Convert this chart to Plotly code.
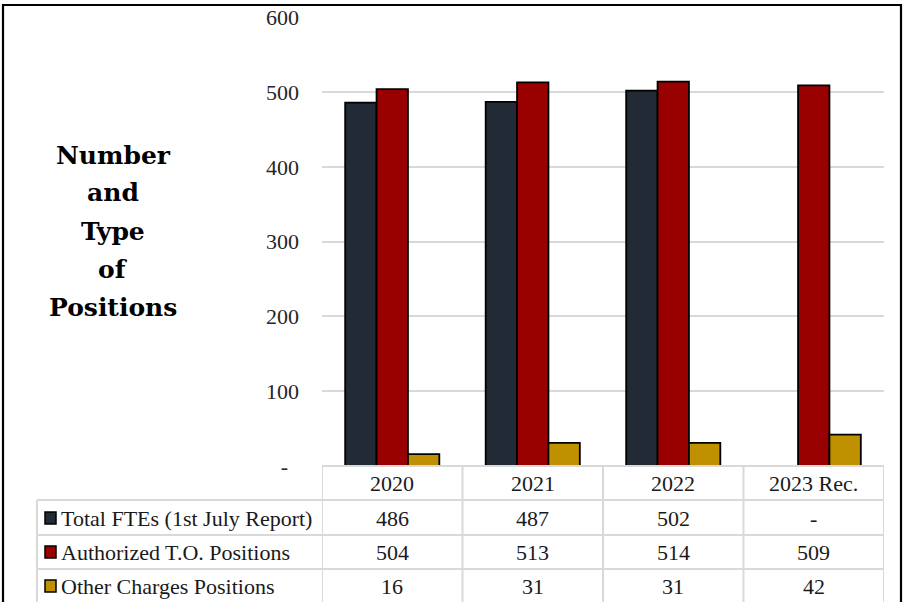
import plotly.graph_objects as go

# ---- data -------------------------------------------------------------
categories = ["2020", "2021", "2022", "2023 Rec."]
series_names = ["Total FTEs (1st July Report)",
                "Authorized T.O. Positions",
                "Other Charges Positions"]
total_ftes = [486, 487, 502, None]
authorized_to = [504, 513, 514, 509]
other_charges = [16, 31, 31, 42]
y_ticks = [0, 100, 200, 300, 400, 500, 600]
y_tick_text = ["-\u00a0\u00a0", "100", "200", "300", "400", "500", "600"]
title_lines = ["Number", "and", "Type", "of", "Positions"]

series_values = [total_ftes, authorized_to, other_charges]
series_colors = ["#222a35", "#990000", "#bf9000"]

# ---- page geometry (pixels) --------------------------------------------
W, H = 904, 602


def px_x(p):
    return p / W


def px_y(p):
    return 1 - p / H


plot_left, plot_right = 322, 884
plot_top, plot_bottom = 17, 466
row_lines = [500, 535, 569]           # horizontal rules of the data table
row_centers = [518, 552, 586]
header_center = 483
label_left = 37

SERIF = "Liberation Serif"
TEXT = "#1a1a1a"
GRID = "#d9d9d9"
TABLE_SIZE = 22

fig = go.Figure()
for name, vals, col in zip(series_names, series_values, series_colors):
    fig.add_trace(go.Bar(
        x=categories, y=vals, name=name,
        marker=dict(color=col, line=dict(color="#000000", width=1.8)),
        showlegend=False,
    ))

shapes = []
annotations = []

# outer frame (open at the bottom)
shapes.append(dict(
    type="path", xref="paper", yref="paper",
    path=f"M {px_x(3)},{px_y(602)} L {px_x(3)},{px_y(5)} "
         f"L {px_x(901)},{px_y(5)} L {px_x(901)},{px_y(602)}",
    line=dict(color="#000000", width=2.2),
))

# data table grid (column edges follow the category axis)
tbl_line = dict(color=GRID, width=2)
n = len(categories)
shapes.append(dict(type="line", xref="x", yref="paper",
                   x0=-0.5, x1=n - 0.5,
                   y0=px_y(plot_bottom), y1=px_y(plot_bottom), line=tbl_line))
for ry in row_lines:
    shapes.append(dict(type="line", xref="paper", yref="paper",
                       x0=px_x(label_left), x1=px_x(plot_right),
                       y0=px_y(ry), y1=px_y(ry), line=tbl_line))
for i in range(n + 1):
    shapes.append(dict(type="line", xref="x", yref="paper",
                       x0=i - 0.5, x1=i - 0.5,
                       y0=px_y(plot_bottom), y1=px_y(H), line=tbl_line))
shapes.append(dict(type="line", xref="paper", yref="paper",
                   x0=px_x(label_left), x1=px_x(label_left),
                   y0=px_y(row_lines[0]), y1=px_y(H), line=tbl_line))

# header row: category names
for i, cat in enumerate(categories):
    annotations.append(dict(
        x=i, xref="x", y=px_y(header_center), yref="paper",
        text=cat, showarrow=False, xanchor="center", yanchor="middle",
        font=dict(family=SERIF, size=TABLE_SIZE, color=TEXT),
    ))

# series rows: legend key, series name and values
for r, (name, vals, col) in enumerate(zip(series_names, series_values, series_colors)):
    cy = row_centers[r]
    shapes.append(dict(type="rect", xref="paper", yref="paper",
                       x0=px_x(45), x1=px_x(56),
                       y0=px_y(cy + 6), y1=px_y(cy - 6),
                       fillcolor=col, line=dict(color="#000000", width=1.5)))
    annotations.append(dict(
        x=px_x(59), xref="paper", y=px_y(cy), yref="paper",
        text=name, showarrow=False, xanchor="left", yanchor="middle",
        font=dict(family=SERIF, size=TABLE_SIZE, color=TEXT),
    ))
    for i, v in enumerate(vals):
        annotations.append(dict(
            x=i, xref="x", y=px_y(cy), yref="paper",
            text="-" if v is None else str(v),
            showarrow=False, xanchor="center", yanchor="middle",
            font=dict(family=SERIF, size=TABLE_SIZE, color=TEXT),
        ))

# side title
title_centers = [155, 192, 231, 269, 307]
for line, cy in zip(title_lines, title_centers):
    annotations.append(dict(
        x=px_x(113), xref="paper", y=px_y(cy), yref="paper",
        text=f"<b>{line}</b>", showarrow=False,
        xanchor="center", yanchor="middle",
        font=dict(family="DejaVu Serif", size=25, color="#000000"),
    ))

fig.update_layout(
    width=W, height=H, autosize=False,
    margin=dict(l=0, r=0, t=0, b=0, pad=0, autoexpand=False),
    paper_bgcolor="#ffffff", plot_bgcolor="#ffffff",
    barmode="group", bargap=0.33, bargroupgap=0,
    shapes=shapes, annotations=annotations,
    xaxis=dict(
        type="category", automargin=False,
        domain=[px_x(plot_left), px_x(plot_right)],
        range=[-0.5, n - 0.5],
        showticklabels=False, showgrid=False, zeroline=False,
        showline=False, ticks="",
    ),
    yaxis=dict(
        automargin=False,
        domain=[px_y(plot_bottom), px_y(plot_top)],
        range=[0, 600.5],
        tickvals=y_ticks, ticktext=y_tick_text,
        showgrid=True, gridcolor=GRID, gridwidth=1.5,
        zeroline=False, showline=False, ticks="",
        ticklabelstandoff=22,
        tickfont=dict(family=SERIF, size=22, color="#262626"),
    ),
)

fig.write_html("out.html")
